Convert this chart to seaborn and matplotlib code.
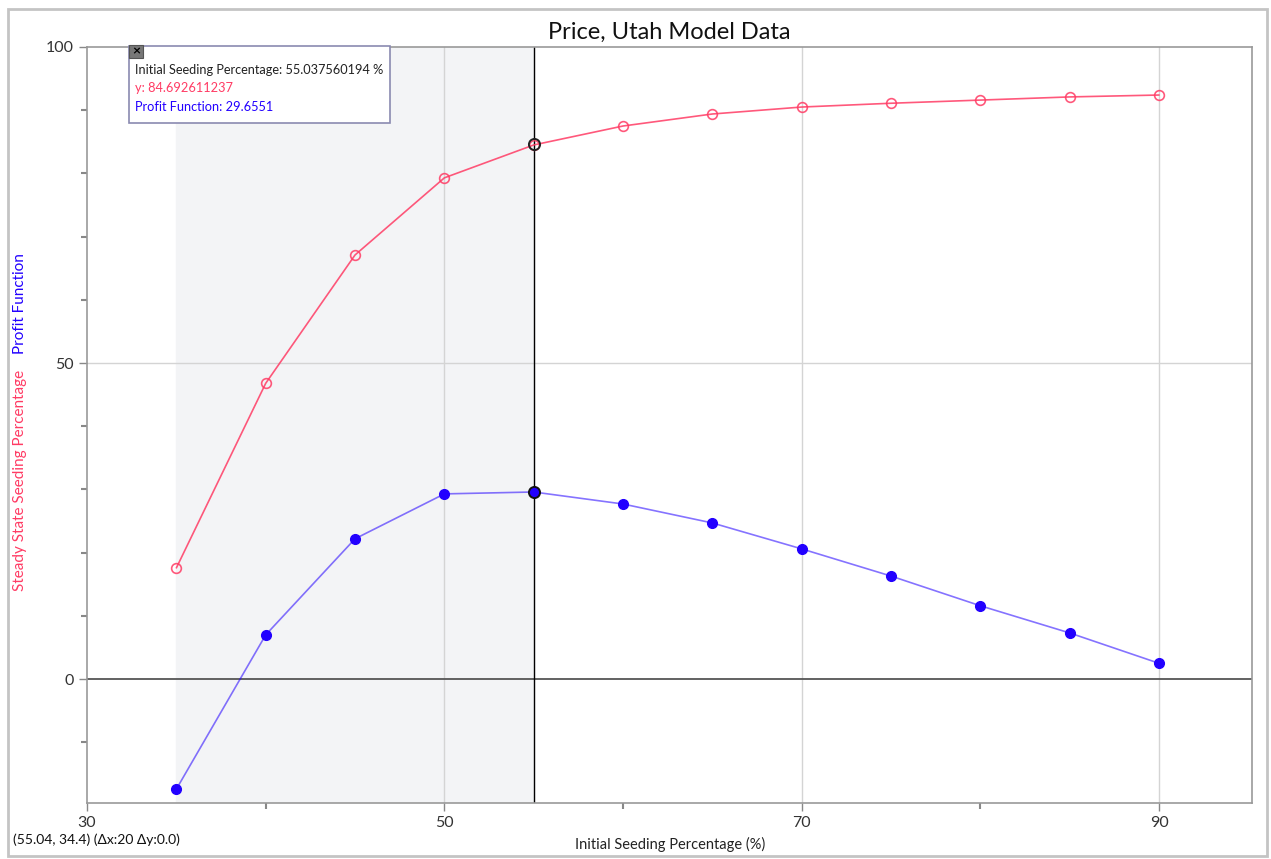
import numpy as np
import pandas as pd
import matplotlib
matplotlib.use('Agg')
import matplotlib.pyplot as plt
import seaborn as sns
from matplotlib.patches import Rectangle
from matplotlib.ticker import FixedLocator

# Data
seeding = [35, 40, 45, 50, 55, 60, 65, 70, 75, 80, 85, 90]
steady_state = [17.6, 46.8, 67.1, 79.3, 84.5, 87.5, 89.4, 90.5, 91.1, 91.6, 92.1, 92.4]
profit = [-17.4, 7.0, 22.2, 29.3, 29.6, 27.7, 24.7, 20.6, 16.3, 11.6, 7.3, 2.5]
x_major = [30, 50, 70, 90]
x_minor = [40, 60, 80]
y_major = [0, 50, 100]
y_minor = [-10, 10, 20, 30, 40, 60, 70, 80, 90]
cursor_x = 55.037560194
cursor_red = 84.692611237
cursor_blue = 29.6551

df = pd.DataFrame({'x': seeding, 'steady': steady_state, 'profit': profit})

sns.set_style("white")
plt.rcParams['font.family'] = ['Lato', 'DejaVu Sans']

red = '#ff3b64'
blue = '#2200ff'

fig = plt.figure(figsize=(12.71, 8.59), dpi=100)
ax = fig.add_axes([0.0685, 0.0652, 0.9165, 0.8801])

# shaded selection and cursor line
ax.axvspan(35, cursor_x, color='#f3f4f6', zorder=0)
ax.axvline(cursor_x, color='black', lw=1.0, zorder=1)

# grid lines
for gx in [50, 70, 90]:
    ax.axvline(gx, color='#d4d4d4', lw=1.0, zorder=0.5)
ax.axhline(50, color='#d4d4d4', lw=1.0, zorder=0.5)
ax.axhline(0, color='#555555', lw=1.3, zorder=0.6)

sns.lineplot(data=df, x='x', y='steady', ax=ax, color=red, lw=1.2, alpha=0.85,
             marker='o', markersize=7, markerfacecolor='none', markeredgecolor=red,
             markeredgewidth=1.2, zorder=3)
sns.lineplot(data=df, x='x', y='profit', ax=ax, color=blue, lw=1.2, alpha=0.55,
             zorder=3)
ax.plot(seeding, profit, 'o', color=blue, markersize=7, zorder=4)

# highlighted cursor points
ax.plot([cursor_x], [cursor_red], 'o', markersize=8, markerfacecolor='none',
        markeredgecolor='#222222', markeredgewidth=1.4, zorder=5)
ax.plot([cursor_x], [cursor_blue], 'o', markersize=8, color=blue,
        markeredgecolor='#111111', markeredgewidth=1.4, zorder=5)

ax.set_xlim(30, 95.2)
ax.set_ylim(-19.6, 100)
ax.xaxis.set_major_locator(FixedLocator(x_major))
ax.xaxis.set_minor_locator(FixedLocator(x_minor))
ax.yaxis.set_major_locator(FixedLocator(y_major))
ax.yaxis.set_minor_locator(FixedLocator(y_minor))
ax.tick_params(axis='both', which='major', length=6, width=1, color='#888888',
               labelsize=11.5, labelcolor='#333333', direction='out')
ax.tick_params(axis='both', which='minor', length=4, width=1.5, color='#888888',
               direction='out')
ax.tick_params(axis='x', which='both', bottom=True)
ax.tick_params(axis='y', which='both', left=True)
ax.set_xlabel('')
ax.set_ylabel('')
for s in ax.spines.values():
    s.set_color('#999999')
    s.set_linewidth(1.2)

ax.set_title('Price, Utah Model Data', fontsize=17, pad=6, color='#111111')

# axis labels
fig.text(0.527, 0.017, 'Initial Seeding Percentage (%)', fontsize=10.5,
         ha='center', va='center', color='#222222')
fig.text(0.0155, 0.441, 'Steady State Seeding Percentage', fontsize=11,
         rotation=90, ha='center', va='center', color=red)
fig.text(0.0155, 0.647, 'Profit Function', fontsize=11,
         rotation=90, ha='center', va='center', color=blue)
fig.text(0.01, 0.023, '(55.04, 34.4) (\u0394x:20 \u0394y:0.0)', fontsize=10,
         ha='left', va='center', color='#111111')

# tooltip box
fig.patches.append(Rectangle((0.1015, 0.857), 0.2055, 0.090, transform=fig.transFigure,
                             facecolor='white', edgecolor='#8a8ab0', lw=1.2, zorder=10))
fig.patches.append(Rectangle((0.1015, 0.932), 0.011, 0.016, transform=fig.transFigure,
                             facecolor='#777777', edgecolor='#555555', lw=0.8, zorder=11))
fig.text(0.107, 0.940, '\u00d7', fontsize=10, ha='center', va='center',
         color='black', zorder=12, fontweight='bold')
fig.text(0.106, 0.919, 'Initial Seeding Percentage: 55.037560194 %', fontsize=9.2,
         ha='left', va='center', color='#222222', zorder=12)
fig.text(0.106, 0.898, 'y: 84.692611237', fontsize=9.2, ha='left', va='center',
         color=red, zorder=12)
fig.text(0.106, 0.875, 'Profit Function: 29.6551', fontsize=9.2, ha='left',
         va='center', color=blue, zorder=12)

# outer window frame
fig.patches.append(Rectangle((0.006, 0.004), 0.991, 0.986, transform=fig.transFigure,
                             facecolor='none', edgecolor='#c4c4c4', lw=2.0, zorder=0))

fig.savefig('out.png', dpi=100)
